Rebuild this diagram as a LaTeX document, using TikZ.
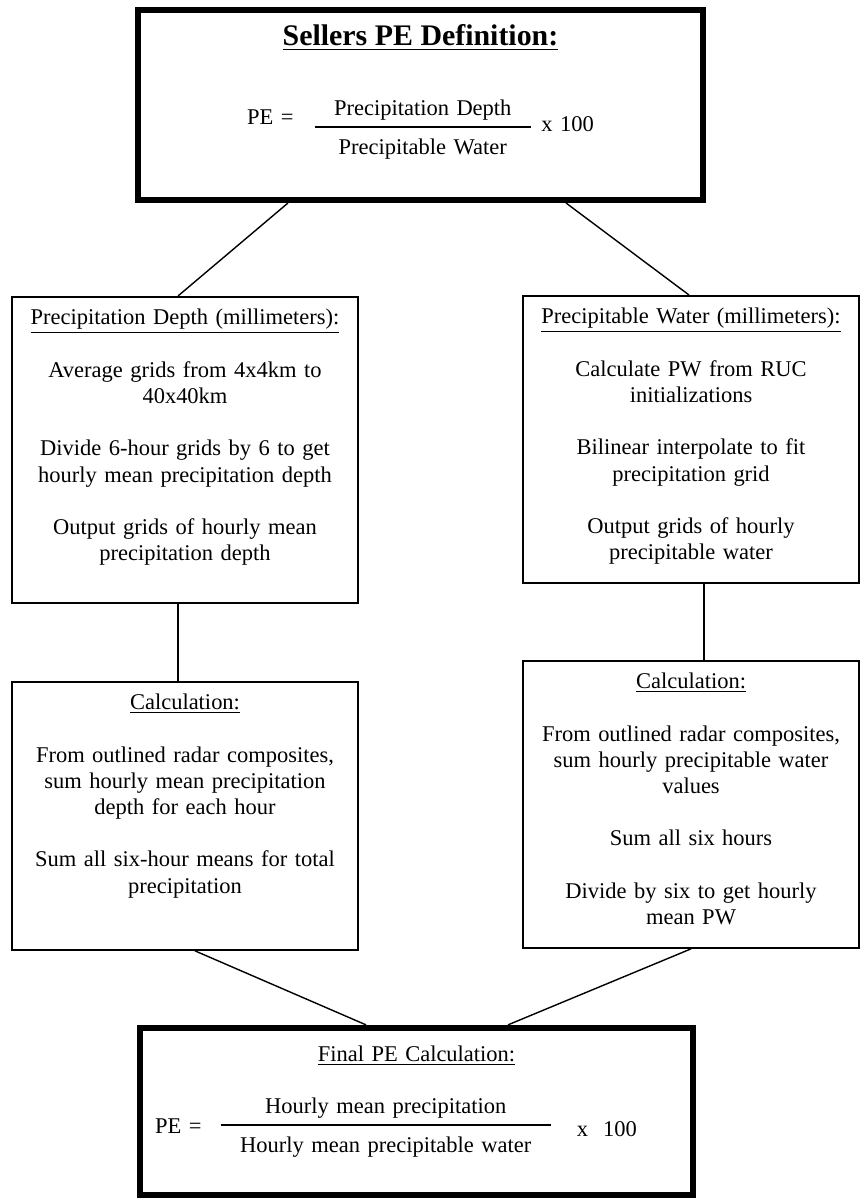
\documentclass[tikz,border=0pt]{standalone}
\usepackage{fontspec}
\setmainfont{Liberation Serif}
\usetikzlibrary{positioning}
\tikzset{
    summary/.style={
        rectangle,
        draw=black,
        line width=3.4pt,
        align=center,
        text width=#1,
        inner sep=0pt,
        font=\fontsize{12.8pt}{14.9pt}\selectfont
    },
    stage/.style={
        rectangle,
        draw=black,
        line width=1.1pt,
        align=center,
        text width=#1,
        inner sep=0pt,
        text height=0.56cm,
        font=\fontsize{12.8pt}{14.9pt}\selectfont
    },
    link/.style={line width=0.8pt,draw=black}
}
\newcommand{\peratio}[2]{%
  {\setlength{\tabcolsep}{11pt}\setlength{\arrayrulewidth}{1pt}%
   \renewcommand{\arraystretch}{1}%
   \begin{tabular}{c}#1\rule[-6pt]{0pt}{6pt}\\\hline\rule{0pt}{15pt}#2\end{tabular}}}

\begin{document}
\begin{tikzpicture}
    \useasboundingbox (0,0) rectangle (17.22,-23.96);

    \node[summary=11.3cm, text height=0.72cm, text depth=3.08cm] (sellers) at (8.41,-2.10)
        {\underline{\fontsize{17pt}{18pt}\selectfont\bfseries Sellers PE Definition:}\\[26pt]
         \raisebox{6pt}{PE =}\hspace{12pt}\peratio{Precipitation Depth}{Precipitable Water}\hspace{6pt}\raisebox{2pt}{x 100}};
    \node[stage=6.92cm, text depth=5.56cm, below=1.86cm of sellers.south, xshift=-4.71cm] (depth)
        {\underline{Precipitation Depth (millimeters):}\\[\baselineskip]
         Average grids from 4x4km to\\40x40km\\[\baselineskip]
         Divide 6-hour grids by 6 to get\\hourly mean precipitation depth\\[\baselineskip]
         Output grids of hourly mean\\precipitation depth};
    \node[stage=6.72cm, text depth=5.18cm, below=1.84cm of sellers.south, xshift=5.41cm] (water)
        {\underline{Precipitable Water (millimeters):}\\[\baselineskip]
         Calculate PW from RUC\\initializations\\[\baselineskip]
         Bilinear interpolate to fit\\precipitation grid\\[\baselineskip]
         Output grids of hourly\\precipitable water};
    \node[stage=6.92cm, text depth=4.80cm, below=1.54cm of depth] (calcdepth)
        {\underline{Calculation:}\\[\baselineskip]
         From outlined radar composites,\\sum hourly mean precipitation\\depth for each hour\\[\baselineskip]
         Sum all six-hour means for total\\precipitation};
    \node[stage=6.72cm, text depth=5.18cm, below=1.52cm of water] (calcwater)
        {\underline{Calculation:}\\[\baselineskip]
         From outlined radar composites,\\sum hourly precipitable water\\values\\[\baselineskip]
         Sum all six hours\\[\baselineskip]
         Divide by six to get hourly\\mean PW};
    \node[summary=11.06cm, text height=0.68cm, text depth=2.66cm, below=1.48cm of calcdepth, xshift=4.63cm] (final)
        {\underline{Final PE Calculation:}\\[16pt]
         PE =\hspace{11pt}\peratio{Hourly mean precipitation}{Hourly mean precipitable water}\hspace{15pt}\raisebox{-2pt}{x\ \ 100}\hspace{0.82cm}\mbox{}};

    \draw[link] ([xshift=-2.65cm]sellers.south) -- ([xshift=-0.14cm]depth.north);
    \draw[link] ([xshift=2.91cm]sellers.south) -- ([xshift=-0.04cm]water.north);
    \draw[link] ([xshift=-0.14cm]depth.south) -- ([xshift=-0.14cm]calcdepth.north);
    \draw[link] ([xshift=0.26cm]water.south) -- ([xshift=0.26cm]calcwater.north);
    \draw[link] ([xshift=0.20cm]calcdepth.south) -- ([xshift=-1.01cm]final.north);
    \draw[link] (calcwater.south) -- ([xshift=1.83cm]final.north);
\end{tikzpicture}
\end{document}
